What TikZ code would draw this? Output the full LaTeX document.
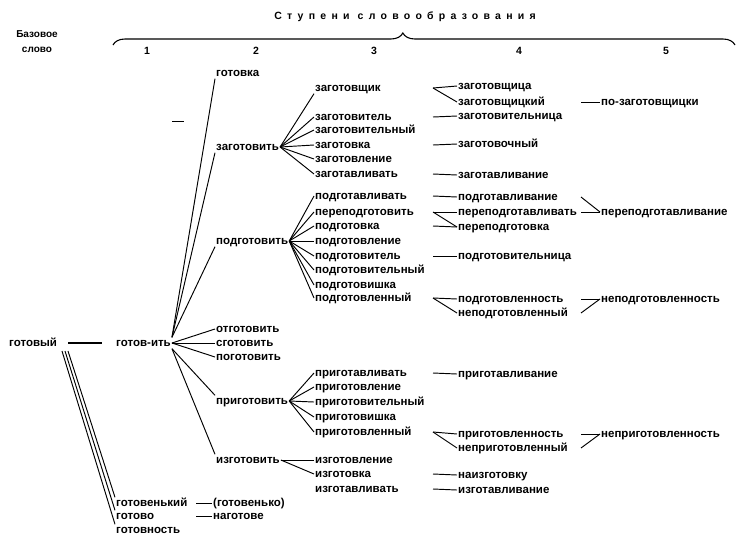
\documentclass[tikz,border=0pt]{standalone}
\usepackage{fontspec}
\setmainfont{Liberation Sans}
\newfontfamily\spacedfont[LetterSpace=50]{Liberation Sans}
\usetikzlibrary{decorations.pathreplacing}

\begin{document}
\begin{tikzpicture}[x=1pt, y=-1pt,
    word/.style={anchor=west, inner sep=1pt, font=\fontsize{11.5}{13}\selectfont\bfseries, text height=1.5ex, text depth=0.2ex},
    head/.style={font=\fontsize{10.5}{12}\selectfont\bfseries},
    link/.style={line width=0.95pt}]
    \useasboundingbox (0,0) rectangle (736,536);

    \node[head] (title) at (405,17) {\spacedfont Ступени словообразования};
    \node[align=center, font=\fontsize{10}{15}\selectfont\bfseries] (base) at (37,42) {Базовое\\слово};
    \draw[line width=1.1pt, decorate, decoration={brace, amplitude=12pt, aspect=0.466}] (113,45) -- (735,45);
    \foreach \x/\n in {147/1, 256/2, 374/3, 519/4, 666/5}
      \node[head] (step\n) at (\x,51) {\n};

    \node[word] (gotovyj) at (8,343) {готовый};
    \node[word] (gotovit) at (115,343) {готов-ить};

    \node[word] (gotovka) at (215,73) {готовка};
    \node[word] (zagotovit) at (215,147) {заготовить};
    \node[word] (podgotovit) at (215,241) {подготовить};
    \node[word] (otgotovit) at (215,329) {отготовить};
    \node[word] (sgotovit) at (215,343) {сготовить};
    \node[word] (pogotovit) at (215,357) {поготовить};
    \node[word] (prigotovit) at (215,401) {приготовить};
    \node[word] (izgotovit) at (215,460) {изготовить};
    \node[word] (gotovenkij) at (115,503) {готовенький};
    \node[word] (gotovo) at (115,516) {готово};
    \node[word] (gotovnost) at (115,530) {готовность};

    \node[word] (zagotovshchik) at (314,88) {заготовщик};
    \node[word] (zagotovitel) at (314,117) {заготовитель};
    \node[word] (zagotovitelnyj) at (314,130) {заготовительный};
    \node[word] (zagotovka) at (314,145) {заготовка};
    \node[word] (zagotovlenie) at (314,159) {заготовление};
    \node[word] (zagotavlivat) at (314,174) {заготавливать};
    \node[word] (podgotavlivat) at (314,196) {подготавливать};
    \node[word] (perepodgotovit) at (314,212) {переподготовить};
    \node[word] (podgotovka) at (314,226) {подготовка};
    \node[word] (podgotovlenie) at (314,241) {подготовление};
    \node[word] (podgotovitel) at (314,256) {подготовитель};
    \node[word] (podgotovitelnyj) at (314,270) {подготовительный};
    \node[word] (podgotovishka) at (314,285) {подготовишка};
    \node[word] (podgotovlennyj) at (314,298) {подготовленный};
    \node[word] (prigotavlivat) at (314,373) {приготавливать};
    \node[word] (prigotovlenie) at (314,387) {приготовление};
    \node[word] (prigotovitelnyj) at (314,402) {приготовительный};
    \node[word] (prigotovishka) at (314,417) {приготовишка};
    \node[word] (prigotovlennyj) at (314,432) {приготовленный};
    \node[word] (izgotovlenie) at (314,460) {изготовление};
    \node[word] (izgotovka) at (314,474) {изготовка};
    \node[word] (izgotavlivat) at (314,489) {изготавливать};
    \node[word] (gotovenko) at (212,503) {(готовенько)};
    \node[word] (nagotove) at (212,516) {наготове};

    \node[word] (zagotovshchica) at (457,86) {заготовщица};
    \node[word] (zagotovshchickij) at (457,102) {заготовщицкий};
    \node[word] (zagotovitelnica) at (457,116) {заготовительница};
    \node[word] (zagotovochnyj) at (457,144) {заготовочный};
    \node[word] (zagotavlivanie) at (457,175) {заготавливание};
    \node[word] (podgotavlivanie) at (457,197) {подготавливание};
    \node[word] (perepodgotavlivat) at (457,212) {переподготавливать};
    \node[word] (perepodgotovka) at (457,227) {переподготовка};
    \node[word] (podgotovitelnica) at (457,256) {подготовительница};
    \node[word] (podgotovlennost) at (457,299) {подготовленность};
    \node[word] (nepodgotovlennyj) at (457,313) {неподготовленный};
    \node[word] (prigotavlivanie) at (457,374) {приготавливание};
    \node[word] (prigotovlennost) at (457,434) {приготовленность};
    \node[word] (neprigotovlennyj) at (457,448) {неприготовленный};
    \node[word] (naizgotovku) at (457,475) {наизготовку};
    \node[word] (izgotavlivanie) at (457,490) {изготавливание};

    \node[word] (pozagotovshchicki) at (600,102) {по-заготовщицки};
    \node[word] (perepodgotavlivanie) at (600,212) {переподготавливание};
    \node[word] (nepodgotovlennost) at (600,299) {неподготовленность};
    \node[word] (neprigotovlennost) at (600,434) {неприготовленность};

    \coordinate (colB) at (196,0);
    \coordinate (colC) at (433,0);
    \coordinate (colD) at (581,0);
    \coordinate (gotovyjfoot) at (62,351);

    \draw[link] (172,121) -- (184,121);

    \path[link, line width=1.6pt, shorten <=10pt, shorten >=13pt] (gotovyj.east) edge (gotovit.west);
    \path[link]
      ([xshift=6pt]gotovyjfoot) edge (gotovenkij.north west)
      ([xshift=3pt]gotovyjfoot) edge (gotovo.north west)
      (gotovyjfoot) edge (gotovnost.north west);
    \path[link]
      (gotovit.north east) edge (gotovka.south west) edge (zagotovit.south west) edge (podgotovit.south west)
      (gotovit.east) edge (otgotovit.west) edge (sgotovit.west) edge (pogotovit.west)
      (gotovit.south east) edge (prigotovit.north west) edge (izgotovit.north west);
    \path[link]
      (zagotovit.east) edge (zagotovshchik.south west) edge (zagotovitel.west) edge (zagotovitelnyj.west)
        edge (zagotovka.west) edge (zagotovlenie.west) edge (zagotavlivat.west)
      (podgotovit.east) edge (podgotavlivat.west) edge (perepodgotovit.west) edge (podgotovka.west)
        edge (podgotovlenie.west) edge (podgotovitel.west) edge (podgotovitelnyj.west)
        edge (podgotovishka.west) edge (podgotovlennyj.west)
      (prigotovit.east) edge (prigotavlivat.west) edge (prigotovlenie.west) edge (prigotovitelnyj.west)
        edge (prigotovishka.west) edge (prigotovlennyj.west)
      (izgotovit.east) edge (izgotovlenie.west) edge (izgotovka.west);
    \path[link]
      (gotovenkij.east -| colB) edge (gotovenko.west)
      (gotovo.east -| colB) edge (nagotove.west);
    \path[link]
      (zagotovshchik.east -| colC) edge (zagotovshchica.west) edge (zagotovshchickij.west)
      (zagotovitel.east -| colC) edge (zagotovitelnica.west)
      (zagotovka.east -| colC) edge (zagotovochnyj.west)
      (zagotavlivat.east -| colC) edge (zagotavlivanie.west)
      (podgotavlivat.east -| colC) edge (podgotavlivanie.west)
      (perepodgotovit.east -| colC) edge (perepodgotavlivat.west) edge (perepodgotovka.west)
      (podgotovka.east -| colC) edge (perepodgotovka.west)
      (podgotovitel.east -| colC) edge (podgotovitelnica.west)
      (podgotovlennyj.east -| colC) edge (podgotovlennost.west) edge (nepodgotovlennyj.west)
      (prigotavlivat.east -| colC) edge (prigotavlivanie.west)
      (prigotovlennyj.east -| colC) edge (prigotovlennost.west) edge (neprigotovlennyj.west)
      (izgotovka.east -| colC) edge (naizgotovku.west)
      (izgotavlivat.east -| colC) edge (izgotavlivanie.west);
    \path[link]
      (zagotovshchickij.east -| colD) edge (pozagotovshchicki.west)
      (podgotavlivanie.east -| colD) edge (perepodgotavlivanie.west)
      (perepodgotavlivat.east -| colD) edge (perepodgotavlivanie.west)
      (podgotovlennost.east -| colD) edge (nepodgotovlennost.west)
      (nepodgotovlennyj.east -| colD) edge (nepodgotovlennost.west)
      (prigotovlennost.east -| colD) edge (neprigotovlennost.west)
      (neprigotovlennyj.east -| colD) edge (neprigotovlennost.west);
\end{tikzpicture}
\end{document}
